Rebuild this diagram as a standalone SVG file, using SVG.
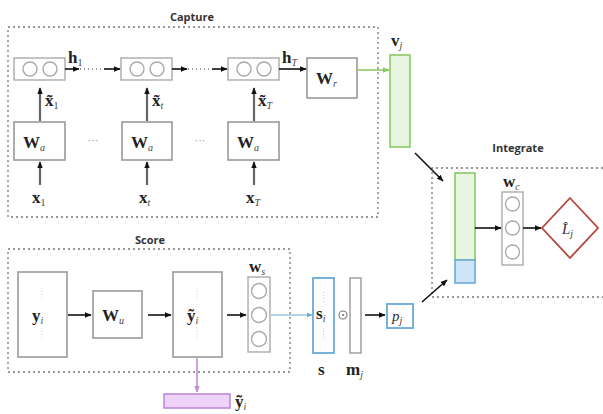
<svg xmlns="http://www.w3.org/2000/svg" width="603" height="414" viewBox="0 0 603 414">
<defs>
<marker id="ah" viewBox="0 0 10 10" refX="9" refY="5" markerWidth="7" markerHeight="7" orient="auto-start-reverse" markerUnits="userSpaceOnUse">
<path d="M0,1 L10,5 L0,9 z" fill="#111"/>
</marker>
<marker id="ahg" viewBox="0 0 10 10" refX="9" refY="5" markerWidth="7" markerHeight="7" orient="auto" markerUnits="userSpaceOnUse">
<path d="M0,1 L10,5 L0,9 z" fill="#8cc865"/>
</marker>
<marker id="ahb" viewBox="0 0 10 10" refX="9" refY="5" markerWidth="6" markerHeight="6" orient="auto" markerUnits="userSpaceOnUse">
<path d="M0,1 L10,5 L0,9 z" fill="#6aaad8"/>
</marker>
<marker id="ahp" viewBox="0 0 10 10" refX="9" refY="5" markerWidth="7" markerHeight="7" orient="auto" markerUnits="userSpaceOnUse">
<path d="M0,1 L10,5 L0,9 z" fill="#c08ad8"/>
</marker>
</defs>
<style>
.grp{fill:none;stroke:#777;stroke-width:1.3;stroke-dasharray:2 3}
.title{font-family:"Open Sans","Liberation Sans",sans-serif;font-weight:bold;font-size:11px;fill:#333;text-anchor:middle}
.box{fill:#fff;stroke:#999;stroke-width:1.6}
.cell{fill:none;stroke:#aaa;stroke-width:1.4}
.m{font-family:"Liberation Serif",serif;font-weight:bold;font-size:17px;fill:#222}
.ms{font-family:"Liberation Serif",serif;font-weight:normal;font-style:italic;font-size:10px;fill:#444}
.n{font-style:normal}
.mi{font-family:"Liberation Serif",serif;font-style:italic;font-size:15px;fill:#333}
.ar{stroke:#111;stroke-width:1.6;fill:none;marker-end:url(#ah)}
.up{stroke:#666;stroke-width:2.2;fill:none;marker-end:url(#ah)}
.dot{stroke:#333;stroke-width:1.2;stroke-dasharray:1 3;fill:none}
.vd{stroke:#ccc;stroke-width:1;stroke-dasharray:1 2}
</style>

<!-- group frames -->
<g id="capture">
<rect class="grp" x="8" y="27" width="370" height="190"/>
<text class="title" x="192" y="21">Capture</text>
</g>
<g id="score">
<rect class="grp" x="8" y="249" width="282" height="123"/>
<text class="title" x="150" y="244">Score</text>
</g>
<g id="integrate">
<path class="grp" d="M603,168 H432 V297 H603"/>
<text class="title" x="518" y="152">Integrate</text>
</g>

<!-- RNN cells -->
<g id="cell1">
<rect class="cell" x="14" y="58" width="51" height="22"/>
<circle class="cell" cx="30" cy="69" r="7"/><circle class="cell" cx="50" cy="69" r="7"/>
</g>
<g id="cell2">
<rect class="cell" x="121" y="58" width="51" height="22"/>
<circle class="cell" cx="137" cy="69" r="7"/><circle class="cell" cx="157" cy="69" r="7"/>
</g>
<g id="cell3">
<rect class="cell" x="228" y="58" width="51" height="22"/>
<circle class="cell" cx="244" cy="69" r="7"/><circle class="cell" cx="264" cy="69" r="7"/>
</g>
<text class="m" x="68" y="63">h<tspan class="ms n" dy="3">1</tspan></text>
<text class="m" x="282" y="63">h<tspan class="ms" dy="3">T</tspan></text>

<!-- Wa boxes -->
<g id="wa1"><rect class="box" x="14" y="122" width="51" height="38"/><text class="m" x="23" y="148">W<tspan class="ms" dy="3">a</tspan></text></g>
<g id="wa2"><rect class="box" x="122" y="122" width="50" height="38"/><text class="m" x="131" y="148">W<tspan class="ms" dy="3">a</tspan></text></g>
<g id="wa3"><rect class="box" x="228" y="122" width="51" height="38"/><text class="m" x="237" y="148">W<tspan class="ms" dy="3">a</tspan></text></g>
<text x="93" y="144" font-family="Liberation Sans,sans-serif" font-size="11" fill="#999" text-anchor="middle">···</text>
<text x="200" y="144" font-family="Liberation Sans,sans-serif" font-size="11" fill="#999" text-anchor="middle">···</text>

<text class="m" x="45" y="106" font-size="15">x̃<tspan class="ms n" dy="3">1</tspan></text>
<text class="m" x="152" y="106" font-size="15">x̃<tspan class="ms" dy="3">t</tspan></text>
<text class="m" x="258" y="106" font-size="15">x̃<tspan class="ms" dy="3">T</tspan></text>

<text class="m" x="32" y="203">x<tspan class="ms n" dy="3">1</tspan></text>
<text class="m" x="139" y="203">x<tspan class="ms" dy="3">t</tspan></text>
<text class="m" x="246" y="203">x<tspan class="ms" dy="3">T</tspan></text>

<!-- Wr -->
<g id="wr"><rect class="box" x="307" y="58" width="50" height="40"/><text class="m" x="316" y="84">W<tspan class="ms" dy="3">r</tspan></text></g>

<!-- vj -->
<g id="vj">
<rect x="390" y="55" width="20" height="92" fill="#e8f5e0" stroke="#8cc865" stroke-width="1.6"/>
<text class="m" x="391" y="46">v<tspan class="ms" dy="3">j</tspan></text>
</g>

<!-- Integrate contents -->
<g id="concat">
<rect x="455" y="173" width="20" height="87" fill="#e8f5e0" stroke="#8cc865" stroke-width="1.6"/>
<rect x="455" y="260" width="20" height="23" fill="#cfe5f7" stroke="#6aaad8" stroke-width="1.6"/>
</g>
<g id="wc">
<rect class="cell" x="502" y="192" width="21" height="73"/>
<circle class="cell" cx="512.5" cy="204" r="7"/><circle class="cell" cx="512.5" cy="228" r="7"/><circle class="cell" cx="512.5" cy="252" r="7"/>
<text class="m" x="503" y="187">w<tspan class="ms" dy="3">c</tspan></text>
</g>
<g id="lj">
<path d="M570,198 L598,228 L570,258 L542,228 z" fill="#fff" stroke="#b5463f" stroke-width="1.8"/>
<text class="mi" x="562" y="234">L̂<tspan font-size="10" dy="3">j</tspan></text>
</g>

<!-- Score contents -->
<g id="yi">
<rect class="box" x="18" y="272" width="49" height="85"/>
<line class="vd" x1="42" y1="288" x2="42" y2="300"/><line class="vd" x1="42" y1="328" x2="42" y2="340"/>
<text class="m" x="32" y="321">y<tspan class="ms" dy="3">i</tspan></text>
</g>
<g id="wu"><rect class="box" x="93" y="291" width="49" height="47"/><text class="m" x="102" y="321">W<tspan class="ms" dy="3">u</tspan></text></g>
<g id="ytilde">
<rect class="box" x="173" y="272" width="49" height="85"/>
<line class="vd" x1="197" y1="288" x2="197" y2="300"/><line class="vd" x1="197" y1="328" x2="197" y2="340"/>
<text class="m" x="187" y="321">ỹ<tspan class="ms" dy="3">i</tspan></text>
</g>
<g id="ws">
<rect class="cell" x="248" y="277" width="22" height="75"/>
<circle class="cell" cx="259" cy="291" r="7.5"/><circle class="cell" cx="259" cy="315" r="7.5"/><circle class="cell" cx="259" cy="339" r="7.5"/>
<text class="m" x="249" y="272">w<tspan class="ms" dy="3">s</tspan></text>
</g>
<g id="s">
<rect x="313" y="278" width="21" height="75" fill="#fdfdff" stroke="#6aaad8" stroke-width="1.8"/>
<line x1="323.5" y1="292" x2="323.5" y2="302" stroke="#e8c89a" stroke-width="1" stroke-dasharray="1 2"/>
<line x1="323.5" y1="328" x2="323.5" y2="338" stroke="#e8c89a" stroke-width="1" stroke-dasharray="1 2"/>
<text class="m" x="316" y="319" font-size="14">s<tspan class="ms" dy="3">i</tspan></text>
<text class="m" x="318" y="375">s</text>
</g>
<g id="odot">
<circle cx="343" cy="315" r="4" fill="none" stroke="#777" stroke-width="1.1"/>
<circle cx="343" cy="315" r="0.9" fill="#555"/>
</g>
<g id="mj">
<rect x="350" y="278" width="11" height="75" fill="#fff" stroke="#999" stroke-width="1.4"/>
<text class="m" x="346" y="375">m<tspan class="ms" dy="3">j</tspan></text>
</g>
<g id="pj">
<rect x="387" y="304" width="26" height="24" fill="#fff" stroke="#6aaad8" stroke-width="1.8"/>
<text class="mi" x="392" y="321">p<tspan font-size="10" dy="3">j</tspan></text>
</g>
<g id="ybar">
<rect x="164" y="394" width="66" height="14" fill="#efd2f7" stroke="#c08ad8" stroke-width="1.6"/>
<text class="m" x="235" y="407">ỹ<tspan class="ms" dy="3">i</tspan></text>
</g>

<!-- connectors -->
<g id="connectors">
<line class="ar" x1="65" y1="69" x2="79" y2="69"/>
<line class="dot" x1="80" y1="69" x2="104" y2="69"/>
<line class="ar" x1="104" y1="69" x2="120" y2="69"/>
<line class="ar" x1="172" y1="69" x2="187" y2="69"/>
<line class="dot" x1="188" y1="69" x2="212" y2="69"/>
<line class="ar" x1="212" y1="69" x2="227" y2="69"/>
<line class="ar" x1="279" y1="69" x2="306" y2="69"/>
<line class="up" x1="40" y1="121" x2="40" y2="88"/>
<line class="up" x1="147" y1="121" x2="147" y2="88"/>
<line class="up" x1="254" y1="121" x2="254" y2="88"/>
<line class="up" x1="40" y1="185" x2="40" y2="162"/>
<line class="up" x1="147" y1="185" x2="147" y2="162"/>
<line class="up" x1="254" y1="185" x2="254" y2="162"/>
<line x1="357" y1="70" x2="389" y2="70" stroke="#8cc865" stroke-width="1.6" marker-end="url(#ahg)"/>
<line class="ar" x1="415" y1="153" x2="443" y2="181"/>
<line class="ar" x1="422" y1="302" x2="447" y2="280"/>
<line class="ar" x1="475" y1="228" x2="501" y2="228"/>
<line class="ar" x1="523" y1="228" x2="541" y2="228"/>
<line class="ar" x1="68" y1="315" x2="91" y2="315"/>
<line class="ar" x1="148" y1="315" x2="171" y2="315"/>
<line class="ar" x1="227" y1="315" x2="246" y2="315"/>
<line x1="271" y1="315" x2="312" y2="315" stroke="#6aaad8" stroke-width="1.1" marker-end="url(#ahb)"/>
<line class="ar" x1="365" y1="315" x2="385" y2="315"/>
<line x1="197" y1="358" x2="197" y2="392" stroke="#c08ad8" stroke-width="1.6" marker-end="url(#ahp)"/>
</g>
</svg>
